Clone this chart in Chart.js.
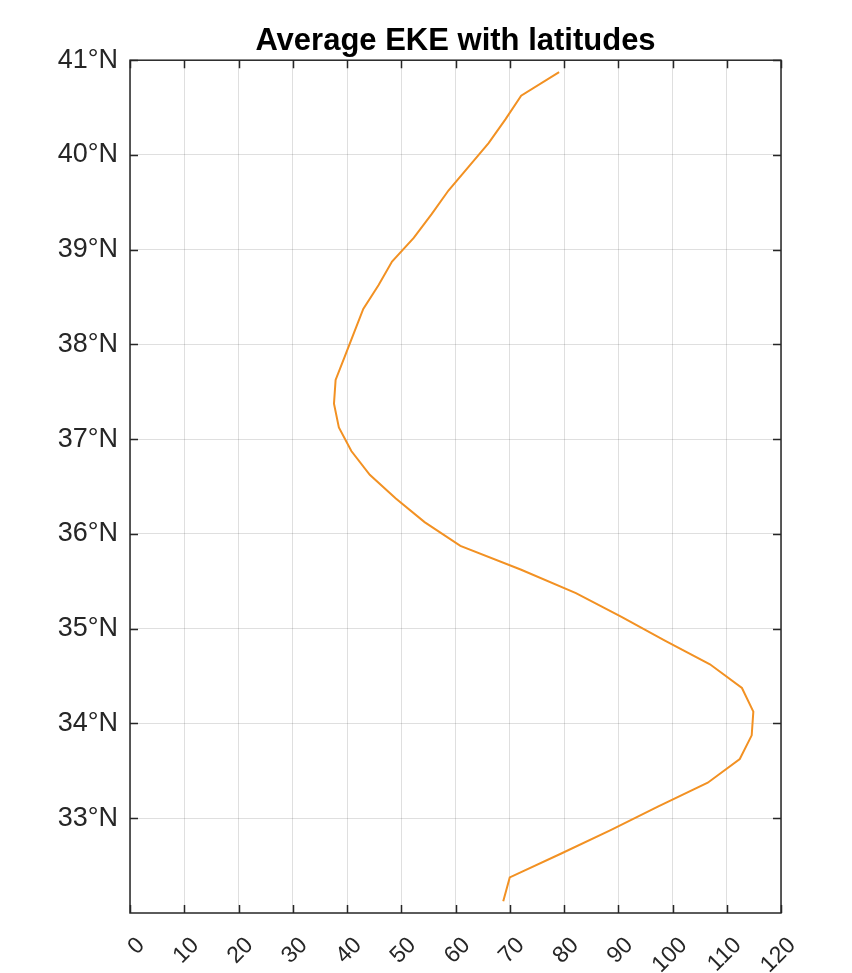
<!DOCTYPE html>
<html>
<head>
<meta charset="utf-8">
<title>Average EKE with latitudes</title>
<script src="https://cdn.jsdelivr.net/npm/chart.js@4/dist/chart.umd.min.js"></script>
<style>
  body { margin: 0; background: #ffffff; }
  #wrap { width: 852px; height: 973px; }
</style>
</head>
<body>
<div id="wrap"><canvas id="ekeChart" width="852" height="973"></canvas></div>
<script>
'use strict';

// ***** DATA *****
const latitudes = [
  32.125, 32.375, 32.625, 32.875, 33.125, 33.375, 33.625, 33.875, 34.125,
  34.375, 34.625, 34.875, 35.125, 35.375, 35.625, 35.875, 36.125, 36.375,
  36.625, 36.875, 37.125, 37.375, 37.625, 37.875, 38.125, 38.375, 38.625,
  38.875, 39.125, 39.375, 39.625, 39.875, 40.125, 40.375, 40.625, 40.875
];
const ekeValues = [
  68.8, 70.0, 79.4, 88.6, 97.4, 106.5, 112.4, 114.6, 114.9,
  112.8, 106.9, 98.6, 90.6, 82.2, 72.0, 60.9, 54.3, 49.0,
  44.2, 40.8, 38.5, 37.6, 37.9, 39.6, 41.3, 43.0, 45.8,
  48.3, 52.3, 55.6, 58.7, 62.4, 66.1, 69.2, 72.1, 79.1
];
const xTicks = [0, 10, 20, 30, 40, 50, 60, 70, 80, 90, 100, 110, 120];
const yTicks = [33, 34, 35, 36, 37, 38, 39, 40, 41];

// ***** STYLE *****
const fontFamily = '"Liberation Sans", Arial, Helvetica, sans-serif';
const axisColor = '#262626';
const gridColor = 'rgba(38,38,38,0.15)';
const lineColor = 'rgb(242,145,35)';

// **** HELPERS ****
function buildPoints() {
  let points = [];
  for (let i = 0; i < latitudes.length; i++) {
    points.push({ x: ekeValues[i], y: latitudes[i] });
  }
  return points;
}

// box round the plot with inward tick marks, like the original figure
const boxPlugin = {
  id: 'boxPlugin',
  afterDatasetsDraw(chart) {
    const ctx = chart.ctx;
    const area = chart.chartArea;
    const xScale = chart.scales.x;
    const yScale = chart.scales.y;
    const len = 8;
    ctx.save();
    ctx.strokeStyle = axisColor;
    ctx.lineWidth = 1.5;
    ctx.beginPath();
    for (let i = 0; i < xTicks.length; i++) {
      let px = Math.round(xScale.getPixelForValue(xTicks[i])) + 0.5;
      ctx.moveTo(px, area.bottom);
      ctx.lineTo(px, area.bottom - len);
      ctx.moveTo(px, area.top);
      ctx.lineTo(px, area.top + len);
    }
    for (let i = 0; i < yTicks.length; i++) {
      let py = Math.round(yScale.getPixelForValue(yTicks[i])) + 0.5;
      ctx.moveTo(area.left, py);
      ctx.lineTo(area.left + len, py);
      ctx.moveTo(area.right, py);
      ctx.lineTo(area.right - len, py);
    }
    ctx.stroke();
    ctx.strokeRect(area.left, area.top, area.right - area.left, area.bottom - area.top);
    ctx.restore();
  }
};

// **** CHART ****
let ctx = document.getElementById('ekeChart').getContext('2d');

let chartObject = {
  type: 'scatter',
  data: {
    datasets: [{
      label: 'EKE',
      data: buildPoints(),
      showLine: true,
      borderColor: lineColor,
      backgroundColor: lineColor,
      borderWidth: 2,
      pointRadius: 0,
      tension: 0
    }]
  },
  options: {
    responsive: false,
    animation: false,
    layout: { padding: { left: 0, right: 71, top: 0, bottom: 0 } },
    plugins: {
      legend: { display: false },
      tooltip: { enabled: false },
      title: {
        display: true,
        text: 'Average EKE with latitudes',
        color: '#000000',
        fullSize: false,
        font: { family: fontFamily, size: 31, weight: 'bold' },
        padding: { top: 23, bottom: 0 }
      }
    },
    scales: {
      x: {
        type: 'linear',
        min: 0,
        max: 120,
        afterBuildTicks(scale) {
          scale.ticks = xTicks.map(v => ({ value: v }));
        },
        afterFit(scale) {
          scale.height = 60;
        },
        ticks: {
          color: axisColor,
          font: { family: fontFamily, size: 23 },
          minRotation: 45,
          maxRotation: 45,
          padding: 19,
          labelOffset: 11
        },
        grid: { color: gridColor, lineWidth: 1, drawTicks: false },
        border: { display: false }
      },
      y: {
        type: 'linear',
        min: 32,
        max: 41,
        afterBuildTicks(scale) {
          scale.ticks = yTicks.map(v => ({ value: v }));
        },
        afterFit(scale) {
          scale.width = 130;
        },
        ticks: {
          color: axisColor,
          font: { family: fontFamily, size: 27 },
          padding: 12,
          callback: (value) => value + '°N'
        },
        grid: { color: gridColor, lineWidth: 1, drawTicks: false },
        border: { display: false }
      }
    }
  },
  plugins: [boxPlugin]
};

new Chart(ctx, chartObject);
</script>
</body>
</html>
